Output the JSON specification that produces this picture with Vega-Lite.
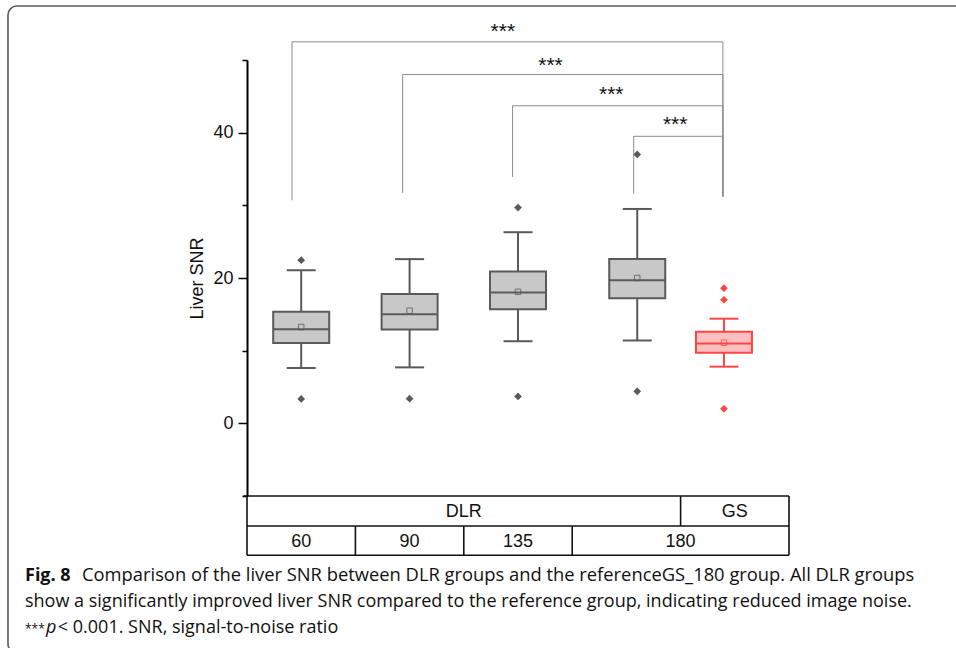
{
  "$schema": "https://vega.github.io/schema/vega-lite/v6.json",
  "autosize": {"type": "none"},
  "width": 542,
  "height": 436,
  "padding": {"left": 247, "top": 60, "right": 167, "bottom": 152},
  "background": "white",
  "config": {"view": {"stroke": null}, "axis": {"grid": false}},
  "resolve": {"axis": {"x": "independent", "y": "independent"}},
  "datasets": {
    "boxes": [
      {"group": "60", "type": "DLR", "pos": 0.5, "lower": 7.6, "q1": 11.05, "median": 12.95, "q3": 15.35, "upper": 21.05, "mean": 13.25},
      {"group": "90", "type": "DLR", "pos": 1.5, "lower": 7.7, "q1": 12.9, "median": 15.0, "q3": 17.8, "upper": 22.6, "mean": 15.5},
      {"group": "135", "type": "DLR", "pos": 2.5, "lower": 11.3, "q1": 15.7, "median": 18.0, "q3": 20.9, "upper": 26.3, "mean": 18.1},
      {"group": "180", "type": "DLR", "pos": 3.6, "lower": 11.4, "q1": 17.2, "median": 19.7, "q3": 22.6, "upper": 29.5, "mean": 20.0},
      {"group": "180", "type": "GS", "pos": 4.4, "lower": 7.8, "q1": 9.7, "median": 11.0, "q3": 12.6, "upper": 14.4, "mean": 11.1}
    ],
    "outliers": [
      {"group": "60", "type": "DLR", "pos": 0.5, "value": 22.45},
      {"group": "60", "type": "DLR", "pos": 0.5, "value": 3.35},
      {"group": "90", "type": "DLR", "pos": 1.5, "value": 3.4},
      {"group": "135", "type": "DLR", "pos": 2.5, "value": 29.7},
      {"group": "135", "type": "DLR", "pos": 2.5, "value": 3.7},
      {"group": "180", "type": "DLR", "pos": 3.6, "value": 37.0},
      {"group": "180", "type": "DLR", "pos": 3.6, "value": 4.4},
      {"group": "180", "type": "GS", "pos": 4.4, "value": 18.6},
      {"group": "180", "type": "GS", "pos": 4.4, "value": 17.0},
      {"group": "180", "type": "GS", "pos": 4.4, "value": 2.0}
    ],
    "brackets": [
      {"x": 0.415, "x2": 4.39, "y": 52.5, "y2": 52.5},
      {"x": 0.415, "x2": 0.415, "y": 52.5, "y2": 30.7},
      {"x": 4.39, "x2": 4.39, "y": 52.5, "y2": 31.2},
      {"x": 1.436, "x2": 4.39, "y": 48.0, "y2": 48.0},
      {"x": 1.436, "x2": 1.436, "y": 48.0, "y2": 31.7},
      {"x": 4.39, "x2": 4.39, "y": 48.0, "y2": 31.2},
      {"x": 2.45, "x2": 4.39, "y": 43.7, "y2": 43.7},
      {"x": 2.45, "x2": 2.45, "y": 43.7, "y2": 33.9},
      {"x": 4.39, "x2": 4.39, "y": 43.7, "y2": 31.2},
      {"x": 3.567, "x2": 4.39, "y": 39.5, "y2": 39.5},
      {"x": 3.567, "x2": 3.567, "y": 39.5, "y2": 31.6},
      {"x": 4.39, "x2": 4.39, "y": 39.5, "y2": 31.2}
    ],
    "stars": [
      {"label": "***", "x": 2.36, "y": 53.03},
      {"label": "***", "x": 2.8, "y": 48.35},
      {"label": "***", "x": 3.36, "y": 44.36},
      {"label": "***", "x": 3.95, "y": 40.23}
    ],
    "tableLines": [
      {"x": -0.035, "x2": 5, "y": -10, "y2": -10},
      {"x": 0, "x2": 5, "y": -14.13, "y2": -14.13},
      {"x": 0, "x2": 5, "y": -18.15, "y2": -18.15},
      {"x": 0, "x2": 0, "y": -10, "y2": -18.15},
      {"x": 5, "x2": 5, "y": -10, "y2": -18.15},
      {"x": 4, "x2": 4, "y": -10, "y2": -14.13},
      {"x": 1, "x2": 1, "y": -14.13, "y2": -18.15},
      {"x": 2, "x2": 2, "y": -14.13, "y2": -18.15},
      {"x": 3, "x2": 3, "y": -14.13, "y2": -18.15}
    ],
    "tableText": [
      {"label": "DLR", "x": 2.0, "y": -12.93},
      {"label": "GS", "x": 4.5, "y": -12.93},
      {"label": "60", "x": 0.5, "y": -16.98},
      {"label": "90", "x": 1.5, "y": -16.98},
      {"label": "135", "x": 2.5, "y": -16.98},
      {"label": "180", "x": 4.0, "y": -16.98}
    ]
  },
  "layer": [
    {
      "data": {"values": [{}]},
      "mark": {"type": "rect", "fill": "transparent", "stroke": "#5a5a5a", "strokeWidth": 1.6, "cornerRadius": 9},
      "encoding": {
        "x": {"datum": -2.205, "type": "quantitative", "scale": {"domain": [0, 5], "nice": false, "zero": false, "padding": 0}, "axis": null},
        "x2": {"datum": 8},
        "y": {"datum": 57.43, "type": "quantitative", "scale": {"domain": [-10, 50], "nice": false, "zero": false, "padding": 0}, "axis": null},
        "y2": {"datum": -31.6}
      }
    },
    {
      "data": {"name": "brackets"},
      "mark": {"type": "rule", "stroke": "#8c8c8c", "strokeWidth": 1},
      "encoding": {
        "x": {"field": "x", "type": "quantitative", "axis": null},
        "x2": {"field": "x2"},
        "y": {"field": "y", "type": "quantitative", "axis": null},
        "y2": {"field": "y2"}
      }
    },
    {
      "data": {"name": "stars"},
      "mark": {"type": "text", "font": "Liberation Sans", "fontSize": 21, "color": "#111", "align": "center", "baseline": "alphabetic"},
      "encoding": {
        "x": {"field": "x", "type": "quantitative", "axis": null},
        "y": {"field": "y", "type": "quantitative", "axis": null},
        "text": {"field": "label"}
      }
    },
    {
      "data": {"name": "boxes"},
      "mark": {"type": "rule", "strokeWidth": 2},
      "encoding": {
        "x": {"field": "pos", "type": "quantitative", "axis": null},
        "y": {
          "field": "lower", "type": "quantitative",
          "axis": {
            "orient": "left",
            "title": "Liver SNR",
            "values": [-10, 0, 10, 20, 30, 40, 50],
            "labelExpr": "datum.value % 20 === 0 ? datum.label : ''",
            "tickSize": {"condition": {"test": "datum.value % 20 === 0", "value": 9}, "value": 5},
            "tickWidth": 1.5,
            "tickColor": "#000",
            "domainColor": "#000",
            "domainWidth": 2,
            "labelFont": "Liberation Sans",
            "labelFontSize": 18,
            "labelColor": "#111",
            "labelPadding": 5,
            "titleFont": "Liberation Sans",
            "titleFontSize": 18,
            "titleFontWeight": "normal",
            "titleColor": "#111",
            "titlePadding": 6
          }
        },
        "y2": {"field": "upper"},
        "color": {"field": "type", "type": "nominal", "scale": {"domain": ["DLR", "GS"], "range": ["#5a5a5a", "#ff4646"]}, "legend": null}
      }
    },
    {
      "data": {"name": "boxes"},
      "mark": {"type": "bar", "width": 56, "strokeWidth": 2},
      "encoding": {
        "x": {"field": "pos", "type": "quantitative", "axis": null},
        "y": {"field": "q1", "type": "quantitative", "axis": null},
        "y2": {"field": "q3"},
        "fill": {"field": "type", "type": "nominal", "scale": {"domain": ["DLR", "GS"], "range": ["#c8c8c8", "#ffc0c0"]}, "legend": null},
        "stroke": {"field": "type", "type": "nominal", "scale": {"domain": ["DLR", "GS"], "range": ["#5a5a5a", "#ff4646"]}, "legend": null}
      }
    },
    {
      "data": {"name": "boxes"},
      "mark": {"type": "tick", "orient": "horizontal", "size": 56, "thickness": 2, "opacity": 1},
      "encoding": {
        "x": {"field": "pos", "type": "quantitative", "axis": null},
        "y": {"field": "median", "type": "quantitative", "axis": null},
        "color": {"field": "type", "type": "nominal", "scale": {"domain": ["DLR", "GS"], "range": ["#5a5a5a", "#ff4646"]}, "legend": null}
      }
    },
    {
      "data": {"name": "boxes"},
      "mark": {"type": "tick", "orient": "horizontal", "size": 29, "thickness": 2, "opacity": 1},
      "encoding": {
        "x": {"field": "pos", "type": "quantitative", "axis": null},
        "y": {"field": "lower", "type": "quantitative", "axis": null},
        "color": {"field": "type", "type": "nominal", "scale": {"domain": ["DLR", "GS"], "range": ["#5a5a5a", "#ff4646"]}, "legend": null}
      }
    },
    {
      "data": {"name": "boxes"},
      "mark": {"type": "tick", "orient": "horizontal", "size": 29, "thickness": 2, "opacity": 1},
      "encoding": {
        "x": {"field": "pos", "type": "quantitative", "axis": null},
        "y": {"field": "upper", "type": "quantitative", "axis": null},
        "color": {"field": "type", "type": "nominal", "scale": {"domain": ["DLR", "GS"], "range": ["#5a5a5a", "#ff4646"]}, "legend": null}
      }
    },
    {
      "data": {"name": "boxes"},
      "mark": {"type": "point", "shape": "square", "size": 30, "filled": false, "strokeWidth": 1, "opacity": 0.8},
      "encoding": {
        "x": {"field": "pos", "type": "quantitative", "axis": null},
        "y": {"field": "mean", "type": "quantitative", "axis": null},
        "color": {"field": "type", "type": "nominal", "scale": {"domain": ["DLR", "GS"], "range": ["#5a5a5a", "#ff4646"]}, "legend": null}
      }
    },
    {
      "data": {"name": "outliers"},
      "mark": {"type": "point", "shape": "diamond", "size": 60, "filled": true, "opacity": 1},
      "encoding": {
        "x": {"field": "pos", "type": "quantitative", "axis": null},
        "y": {"field": "value", "type": "quantitative", "axis": null},
        "color": {"field": "type", "type": "nominal", "scale": {"domain": ["DLR", "GS"], "range": ["#454545", "#ff4646"]}, "legend": null}
      }
    },
    {
      "data": {"name": "tableLines"},
      "mark": {"type": "rule", "stroke": "#111", "strokeWidth": 1.6},
      "encoding": {
        "x": {"field": "x", "type": "quantitative", "axis": null},
        "x2": {"field": "x2"},
        "y": {"field": "y", "type": "quantitative", "axis": null},
        "y2": {"field": "y2"}
      }
    },
    {
      "data": {"name": "tableText"},
      "mark": {"type": "text", "font": "Liberation Sans", "fontSize": 18, "color": "#111", "align": "center", "baseline": "alphabetic"},
      "encoding": {
        "x": {"field": "x", "type": "quantitative", "axis": null},
        "y": {"field": "y", "type": "quantitative", "axis": null},
        "text": {"field": "label"}
      }
    },
    {
      "data": {"values": [{"t": "Fig. 8"}]},
      "mark": {"type": "text", "font": "Open Sans", "fontSize": 18, "fontWeight": "bold", "color": "#111", "align": "left", "baseline": "alphabetic"},
      "encoding": {
        "x": {"datum": -2.048, "type": "quantitative", "axis": null},
        "y": {"datum": -21.66, "type": "quantitative", "axis": null},
        "text": {"field": "t"}
      }
    },
    {
      "data": {"values": [{"t": "Comparison of the liver SNR between DLR groups and the referenceGS_180 group. All DLR groups"}]},
      "mark": {"type": "text", "font": "Open Sans", "fontSize": 18.35, "color": "#111", "align": "left", "baseline": "alphabetic"},
      "encoding": {
        "x": {"datum": -1.522, "type": "quantitative", "axis": null},
        "y": {"datum": -21.66, "type": "quantitative", "axis": null},
        "text": {"field": "t"}
      }
    },
    {
      "data": {"values": [{"t": "show a significantly improved liver SNR compared to the reference group, indicating reduced image noise."}]},
      "mark": {"type": "text", "font": "Open Sans", "fontSize": 18, "color": "#111", "align": "left", "baseline": "alphabetic"},
      "encoding": {
        "x": {"datum": -2.048, "type": "quantitative", "axis": null},
        "y": {"datum": -25.23, "type": "quantitative", "axis": null},
        "text": {"field": "t"}
      }
    },
    {
      "data": {"values": [{"t": "***"}]},
      "mark": {"type": "text", "font": "Open Sans", "fontSize": 12, "color": "#111", "align": "left", "baseline": "alphabetic"},
      "encoding": {
        "x": {"datum": -2.048, "type": "quantitative", "axis": null},
        "y": {"datum": -28.81, "type": "quantitative", "axis": null},
        "text": {"field": "t"}
      }
    },
    {
      "data": {"values": [{"t": "p"}]},
      "mark": {"type": "text", "font": "Open Sans", "fontSize": 18, "fontStyle": "italic", "color": "#111", "align": "left", "baseline": "alphabetic"},
      "encoding": {
        "x": {"datum": -1.855, "type": "quantitative", "axis": null},
        "y": {"datum": -28.81, "type": "quantitative", "axis": null},
        "text": {"field": "t"}
      }
    },
    {
      "data": {"values": [{"t": "< 0.001. SNR, signal-to-noise ratio"}]},
      "mark": {"type": "text", "font": "Open Sans", "fontSize": 18, "color": "#111", "align": "left", "baseline": "alphabetic"},
      "encoding": {
        "x": {"datum": -1.745, "type": "quantitative", "axis": null},
        "y": {"datum": -28.81, "type": "quantitative", "axis": null},
        "text": {"field": "t"}
      }
    }
  ]
}
